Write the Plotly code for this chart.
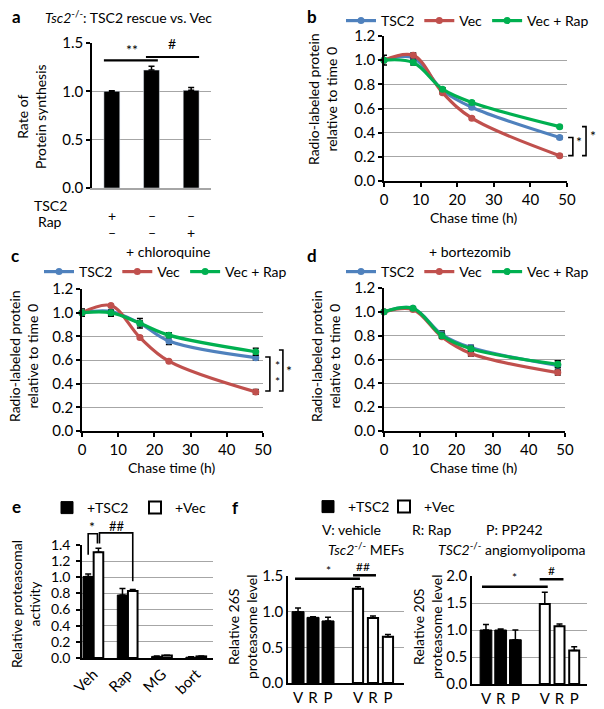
import plotly.graph_objects as go

W, H = 604, 709
FONT = "Lato"
BLUE, RED, GREEN = "#4F81BD", "#C0504D", "#00B050"
GRID = "#A6A6A6"

# ---------------- data ----------------
# panel a
a_x = [0, 1, 2]
a_tsc2_row = ["+", "–", "–"]
a_rap_row = ["–", "–", "+"]
a_values = [1.00, 1.22, 1.01]
a_err = [0.005, 0.04, 0.03]

# panels b-d (chase time course)
chase_time = [0, 8, 16, 24, 48]
series_names = ["TSC2", "Vec", "Vec + Rap"]
b_tsc2 = [1.00, 1.02, 0.75, 0.61, 0.36]
b_vec = [1.00, 1.04, 0.73, 0.52, 0.21]
b_rap = [1.00, 0.98, 0.76, 0.65, 0.45]
b_tsc2_err = [0.04, 0.02, 0.02, 0.01, 0.01]
b_vec_err = [0.01, 0.02, 0.01, 0.01, 0.01]
b_rap_err = [0.01, 0.02, 0.01, 0.01, 0.01]

c_tsc2 = [1.00, 1.01, 0.91, 0.76, 0.62]
c_vec = [1.00, 1.06, 0.79, 0.59, 0.33]
c_rap = [1.00, 1.00, 0.91, 0.81, 0.67]
c_tsc2_err = [0.03, 0.04, 0.04, 0.03, 0.02]
c_vec_err = [0.01, 0.01, 0.01, 0.01, 0.02]
c_rap_err = [0.01, 0.02, 0.02, 0.02, 0.03]

d_tsc2 = [1.00, 1.03, 0.81, 0.70, 0.55]
d_vec = [1.00, 1.02, 0.79, 0.65, 0.49]
d_rap = [1.00, 1.03, 0.80, 0.69, 0.56]
d_tsc2_err = [0.01, 0.01, 0.03, 0.02, 0.04]
d_vec_err = [0.01, 0.01, 0.01, 0.02, 0.02]
d_rap_err = [0.01, 0.01, 0.02, 0.02, 0.03]

# panel e
e_categories = ["Veh", "Rap", "MG", "bort"]
e_x = [0, 1, 2, 3]
e_tsc2 = [1.01, 0.78, 0.02, 0.01]
e_tsc2_err = [0.03, 0.08, 0.005, 0.005]
e_vec = [1.31, 0.83, 0.03, 0.02]
e_vec_err = [0.05, 0.02, 0.005, 0.005]

# panel f
f_labels = ["V", "R", "P"]
f_x_tsc2 = [0, 1, 2]
f_x_vec = [4, 5, 6]
f1_tsc2 = [1.00, 0.92, 0.87]
f1_tsc2_err = [0.05, 0.01, 0.05]
f1_vec = [1.32, 0.91, 0.65]
f1_vec_err = [0.03, 0.03, 0.03]
f2_tsc2 = [1.00, 1.00, 0.82]
f2_tsc2_err = [0.10, 0.02, 0.18]
f2_vec = [1.48, 1.07, 0.62]
f2_vec_err = [0.22, 0.04, 0.07]

# ---------------- layout geometry (pixels) ----------------
PANELS = {
    "a": dict(n=1, x=(92, 211), y=(188, 43), xr=[-0.5, 2.5], yr=[0, 1.5], dt=0.5),
    "b": dict(n=2, x=(384, 567), y=(181, 36), xr=[0, 50], yr=[0, 1.2], dt=0.2),
    "c": dict(n=3, x=(82, 263), y=(431, 289), xr=[0, 50], yr=[0, 1.2], dt=0.2),
    "d": dict(n=4, x=(384, 565), y=(431, 288), xr=[0, 50], yr=[0, 1.2], dt=0.2),
    "e": dict(n=5, x=(82, 213), y=(658, 545), xr=[-0.33, 3.49], yr=[0, 1.4], dt=0.2),
    "f1": dict(n=6, x=(288, 404), y=(683, 576), xr=[-0.67, 7.07], yr=[0, 1.5], dt=0.5),
    "f2": dict(n=7, x=(472, 587), y=(684, 576), xr=[-0.95, 6.87], yr=[0, 2.0], dt=0.5),
}


def ax_names(p):
    n = PANELS[p]["n"]
    s = "" if n == 1 else str(n)
    return "x" + s, "y" + s


def to_paper(p, x, y):
    P = PANELS[p]
    (x0, x1), (yb, yt) = P["x"], P["y"]
    fx = (x - P["xr"][0]) / (P["xr"][1] - P["xr"][0])
    fy = (y - P["yr"][0]) / (P["yr"][1] - P["yr"][0])
    return (x0 + fx * (x1 - x0)) / W, 1 - (yb + fy * (yt - yb)) / H


fig = go.Figure()
layout = dict(
    width=W, height=H, margin=dict(l=0, r=0, t=0, b=0, pad=0, autoexpand=False),
    paper_bgcolor="white", plot_bgcolor="white",
    font=dict(family=FONT, size=14, color="black"),
    showlegend=True,
)

TICKSIZE = 15
for p, P in PANELS.items():
    xn, yn = ax_names(p)
    xa = "xaxis" + xn[1:]
    ya = "yaxis" + yn[1:]
    layout[xa] = dict(
        domain=[P["x"][0] / W, P["x"][1] / W], range=P["xr"], anchor=yn,
        showgrid=False, zeroline=False, showline=True, linecolor="black",
        linewidth=1.5, tickfont=dict(size=TICKSIZE), fixedrange=True, automargin=False,
    )
    layout[ya] = dict(
        domain=[1 - P["y"][0] / H, 1 - P["y"][1] / H], range=P["yr"], anchor=xn,
        showgrid=True, gridcolor=GRID, gridwidth=1.3, zeroline=False,
        showline=True, linecolor="black", linewidth=1.5,
        ticks="outside", ticklen=4, tickwidth=1.5, tickcolor="black",
        dtick=P["dt"], tick0=0, tickformat=".1f", tickfont=dict(size=TICKSIZE),
        fixedrange=True, automargin=False,
    )

# panel a axes tweaks
layout["xaxis"].update(showticklabels=False, ticks="", linecolor=GRID)
# b-d x axes
for p in ["b", "c", "d"]:
    xn, _ = ax_names(p)
    layout["xaxis" + xn[1:]].update(dtick=10, tick0=0, ticks="outside", ticklen=4,
                                     tickwidth=1.5, tickcolor="black")
# e axes
layout["xaxis5"].update(tickvals=e_x, ticktext=e_categories, tickangle=-45, ticks="")
layout["yaxis5"].update(ticklabelstandoff=3, tickfont=dict(size=14))
# f axes
for p in ["f1", "f2"]:
    xn, yn = ax_names(p)
    layout["xaxis" + xn[1:]].update(tickvals=f_x_tsc2 + f_x_vec,
                                     ticktext=f_labels + f_labels, ticks="")
    layout["yaxis" + yn[1:]].update(ticks="")

ERR = dict(type="data", color="black", thickness=1.5, width=3)

# ---- panel a bars ----
fig.add_trace(go.Bar(x=a_x, y=a_values, width=0.4, marker_color="black",
                     error_y=dict(array=a_err, arrayminus=[0] * 3, **ERR),
                     xaxis="x", yaxis="y", showlegend=False))

# ---- panels b-d lines ----
line_sets = {
    "b": ([b_tsc2, b_vec, b_rap], [b_tsc2_err, b_vec_err, b_rap_err], "legend"),
    "c": ([c_tsc2, c_vec, c_rap], [c_tsc2_err, c_vec_err, c_rap_err], "legend2"),
    "d": ([d_tsc2, d_vec, d_rap], [d_tsc2_err, d_vec_err, d_rap_err], "legend3"),
}
for p, (vals, errs, lg) in line_sets.items():
    xn, yn = ax_names(p)
    for name, v, e, col in zip(series_names, vals, errs, [BLUE, RED, GREEN]):
        fig.add_trace(go.Scatter(
            x=chase_time, y=v, name=name, mode="lines+markers",
            line=dict(color=col, width=3.2, shape="spline", smoothing=1.0),
            marker=dict(color=col, size=7),
            error_y=dict(array=e, **ERR),
            xaxis=xn, yaxis=yn, legend=lg, cliponaxis=False,
        ))

# ---- panel e bars ----
fig.add_trace(go.Bar(x=e_x, y=e_tsc2, width=0.3, offset=-0.3, name="+TSC2",
                     marker=dict(color="black", line=dict(color="black", width=1)),
                     error_y=dict(array=e_tsc2_err, arrayminus=[0] * 4, **ERR),
                     xaxis="x5", yaxis="y5", legend="legend4"))
fig.add_trace(go.Bar(x=e_x, y=e_vec, width=0.28, offset=0.01, name="+Vec",
                     marker=dict(color="white", line=dict(color="black", width=2)),
                     error_y=dict(array=e_vec_err, arrayminus=[0] * 4, **ERR),
                     xaxis="x5", yaxis="y5", legend="legend4"))

# ---- panel f bars ----
for p, tv, te, vv, ve, show in [("f1", f1_tsc2, f1_tsc2_err, f1_vec, f1_vec_err, True),
                                ("f2", f2_tsc2, f2_tsc2_err, f2_vec, f2_vec_err, False)]:
    xn, yn = ax_names(p)
    fig.add_trace(go.Bar(x=f_x_tsc2, y=tv, width=0.8, name="+TSC2",
                         marker=dict(color="black", line=dict(color="black", width=1)),
                         error_y=dict(array=te, arrayminus=[0] * 3, **ERR),
                         xaxis=xn, yaxis=yn, legend="legend5", showlegend=show))
    fig.add_trace(go.Bar(x=f_x_vec, y=vv, width=0.68, name="+Vec",
                         marker=dict(color="white", line=dict(color="black", width=2)),
                         error_y=dict(array=ve, arrayminus=[0] * 3, **ERR),
                         xaxis=xn, yaxis=yn, legend="legend5", showlegend=show))

# ---- legends ----
def lg(x, y, **kw):
    d = dict(x=x / W, y=1 - y / H, xanchor="left", yanchor="middle",
             orientation="h", bgcolor="rgba(0,0,0,0)", font=dict(size=14),
             itemwidth=30, tracegroupgap=0)
    d.update(kw)
    return d

layout["legend"] = lg(341, 21)
layout["legend2"] = lg(39, 272)
layout["legend3"] = lg(341, 272)
layout["legend4"] = lg(47, 508, entrywidth=43, entrywidthmode="pixels")
layout["legend5"] = lg(308, 507, entrywidth=31, entrywidthmode="pixels")

# ---------------- annotations ----------------
ann = []
shapes = []


def txt(x, y, s, size=14, xanchor="center", yanchor="middle", angle=0, **kw):
    ann.append(dict(x=x / W, y=1 - y / H, xref="paper", yref="paper", text=s,
                    showarrow=False, xanchor=xanchor, yanchor=yanchor,
                    textangle=angle, font=dict(size=size, family=FONT, color="black"),
                    **kw))


def dtxt(p, x, y, s, size=14):
    X, Y = to_paper(p, x, y)
    ann.append(dict(x=X, y=Y, xref="paper", yref="paper", text=s, showarrow=False,
                    xanchor="center", yanchor="middle",
                    font=dict(size=size, family=FONT, color="black")))


def dpath(p, pts, width=1.6):
    q = [to_paper(p, x, y) for x, y in pts]
    path = "M" + " L".join(f"{x:.5f},{y:.5f}" for x, y in q)
    shapes.append(dict(type="path", xref="paper", yref="paper", path=path,
                       line=dict(color="black", width=width)))


# panel letters
for letter, (x, y) in {"a": (16, 17), "b": (312, 17), "c": (15, 255),
                       "d": (312, 255), "e": (16, 506), "f": (235, 507)}.items():
    txt(x, y, f"<b>{letter}</b>", size=17)

# titles
txt(43, 17, "<i>Tsc2</i><sup>-/-</sup>: TSC2 rescue vs. Vec", size=14, xanchor="left")
txt(168, 251, "+ chloroquine", size=14)
txt(470, 251, "+ bortezomib", size=14)

# axis titles
txt(32, 117, "Rate of<br>Protein synthesis", angle=-90)
txt(322, 99, "Radio-labeled protein<br>relative to time 0", angle=-90)
txt(23, 356, "Radio-labeled protein<br>relative to time 0", angle=-90)
txt(325, 356, "Radio-labeled protein<br>relative to time 0", angle=-90)
txt(474, 218, "Chase time (h)")
txt(172, 467, "Chase time (h)")
txt(474, 467, "Chase time (h)")
txt(25, 604, "Relative proteasomal<br>activity", angle=-90)
txt(242, 627, "Relative 26S<br>proteasome level", angle=-90)
txt(427, 627, "Relative 20S<br>proteasome level", angle=-90)

# panel a row labels
txt(50, 205, "TSC2")
txt(50, 222, "Rap")
for i, (s1, s2) in enumerate(zip(a_tsc2_row, a_rap_row)):
    ann.append(dict(x=a_x[i], y=1 - 205 / H, xref="x", yref="paper", text=s1,
                    showarrow=False, font=dict(size=14)))
    ann.append(dict(x=a_x[i], y=1 - 222 / H, xref="x", yref="paper", text=s2,
                    showarrow=False, font=dict(size=14)))

# panel f texts
txt(351, 529, "V: vehicle")
txt(431, 529, "R: Rap")
txt(514, 529, "P: PP242")
txt(366, 548, "<i>Tsc2</i><sup>-/-</sup> MEFs")
txt(512, 548, "<i>TSC2</i><sup>-/-</sup> angiomyolipoma")

# significance marks
# a
dpath("a", [(-0.2, 1.32), (1.16, 1.32)], width=2.2)
dpath("a", [(0.86, 1.355), (2.2, 1.355)], width=2.2)
dtxt("a", 0.51, 1.43, "**")
dtxt("a", 1.52, 1.50, "#")
# b
dpath("b", [(50.3, 0.36), (51.6, 0.36), (51.6, 0.21), (50.3, 0.21)])
dpath("b", [(54.1, 0.45), (55.2, 0.45), (55.2, 0.21), (54.1, 0.21)])
dtxt("b", 53.2, 0.33, "*")
dtxt("b", 57.1, 0.38, "*")
# c
dpath("c", [(50.6, 0.625), (51.9, 0.625), (51.9, 0.338), (50.6, 0.338)])
dpath("c", [(54.4, 0.685), (55.5, 0.685), (55.5, 0.338), (54.4, 0.338)])
dtxt("c", 53.9, 0.49, "*<br>*", size=12)
dtxt("c", 57.3, 0.51, "*")
# e
dpath("e", [(-0.15, 1.28), (-0.15, 1.54), (0.12, 1.54), (0.12, 1.42)])
dpath("e", [(0.18, 1.42), (0.18, 1.55), (1.15, 1.55), (1.15, 0.95)])
dtxt("e", -0.04, 1.63, "*")
dtxt("e", 0.69, 1.63, "##", size=13)
# f1
dpath("f1", [(-0.2, 1.46), (4.13, 1.46)], width=2.5)
dpath("f1", [(3.67, 1.51), (5.2, 1.51)], width=2.5)
dtxt("f1", 2.0, 1.58, "*", size=12)
dtxt("f1", 4.33, 1.63, "##", size=12)
# f2
dpath("f2", [(-0.27, 1.80), (4.2, 1.80)], width=2.5)
dpath("f2", [(3.65, 1.94), (5.27, 1.94)], width=2.5)
dtxt("f2", 1.96, 1.98, "*", size=12)
dtxt("f2", 4.46, 2.11, "#", size=12)

layout["annotations"] = ann
layout["shapes"] = shapes
fig.update_layout(**layout)
fig.write_html("out.html", config={"displayModeBar": False},
               post_script="document.body.style.margin='0px';")
